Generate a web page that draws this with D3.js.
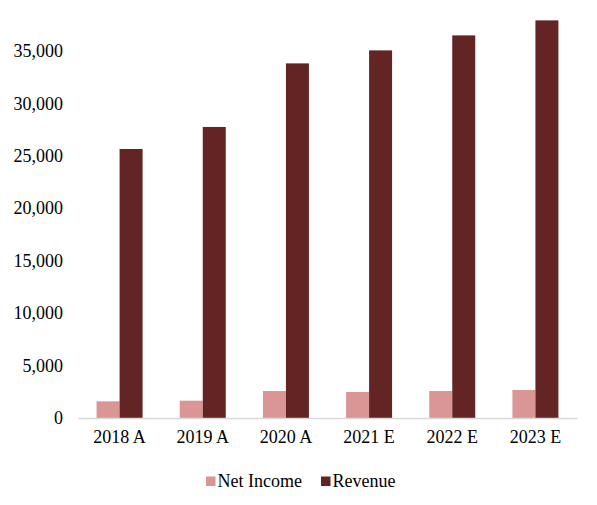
<!DOCTYPE html>
<html>
<head>
<meta charset="utf-8">
<script src="https://cdn.jsdelivr.net/npm/d3@7"></script>
<style>
  body { margin: 0; background: #fff; }
  text { font-family: "Liberation Serif", "Times New Roman", serif; fill: #000; }
</style>
</head>
<body>
<div id="chart"></div>
<script>
const years = ["2018 A", "2019 A", "2020 A", "2021 E", "2022 E", "2023 E"];
const netIncome = [1590, 1650, 2570, 2480, 2570, 2670];
const revenue = [25640, 27740, 33800, 35040, 36470, 37900];
const seriesNames = ["Net Income", "Revenue"];
const yTicks = [0, 5000, 10000, 15000, 20000, 25000, 30000, 35000];

const width = 597;
const height = 505;
const margin = { top: 0, right: 20, bottom: 87, left: 78 };
const colors = ["#d99694", "#632523"];

const svg = d3.select("#chart").append("svg")
    .attr("width", width)
    .attr("height", height);

const y = d3.scaleLinear()
    .domain([0, 35000])
    .range([418, 50.8]);

const x0 = d3.scaleBand()
    .domain(years)
    .range([margin.left, width - margin.right])
    .paddingInner(0.447)
    .paddingOuter(0.2235);

const x1 = d3.scaleBand()
    .domain(seriesNames)
    .range([0, x0.bandwidth()]);

const data = years.map((yr, i) => ({ year: yr, values: [netIncome[i], revenue[i]] }));

svg.append("g")
    .selectAll("g")
    .data(data)
    .enter()
    .append("g")
    .attr("transform", d => `translate(${x0(d.year)},0)`)
    .selectAll("rect")
    .data(d => d.values.map((v, j) => ({ key: seriesNames[j], value: v, j })))
    .enter()
    .append("rect")
    .attr("x", d => x1(d.key))
    .attr("y", d => y(d.value))
    .attr("width", x1.bandwidth())
    .attr("height", d => y(0) - y(d.value))
    .attr("fill", d => colors[d.j]);

// y axis labels only, no line
const yAxis = svg.append("g")
    .attr("transform", `translate(${margin.left},0)`)
    .call(d3.axisLeft(y).tickValues(yTicks).tickFormat(d3.format(",")).tickSize(0).tickPadding(15));
yAxis.select(".domain").remove();
yAxis.selectAll("text")
    .style("font-size", "18px")
    .style("font-family", "Liberation Serif, serif");

// x axis
const xAxis = svg.append("g")
    .attr("transform", `translate(0,${y(0)})`)
    .call(d3.axisBottom(x0).tickSize(0).tickPadding(12).tickSizeOuter(0));
xAxis.select(".domain")
    .attr("stroke", "#d9d9d9")
    .attr("stroke-width", 1.5);
xAxis.selectAll("text")
    .style("font-size", "18px")
    .style("font-family", "Liberation Serif, serif");

// legend
const legendItems = [
    { name: "Net Income", color: colors[0], x: 206 },
    { name: "Revenue", color: colors[1], x: 321 }
];
const legend = svg.append("g");
legendItems.forEach(item => {
    legend.append("rect")
        .attr("x", item.x)
        .attr("y", 476.5)
        .attr("width", 9.5)
        .attr("height", 9.5)
        .attr("fill", item.color);
    legend.append("text")
        .attr("x", item.x + 11.5)
        .attr("y", 487)
        .style("font-size", "18px")
        .text(item.name);
});
</script>
</body>
</html>
